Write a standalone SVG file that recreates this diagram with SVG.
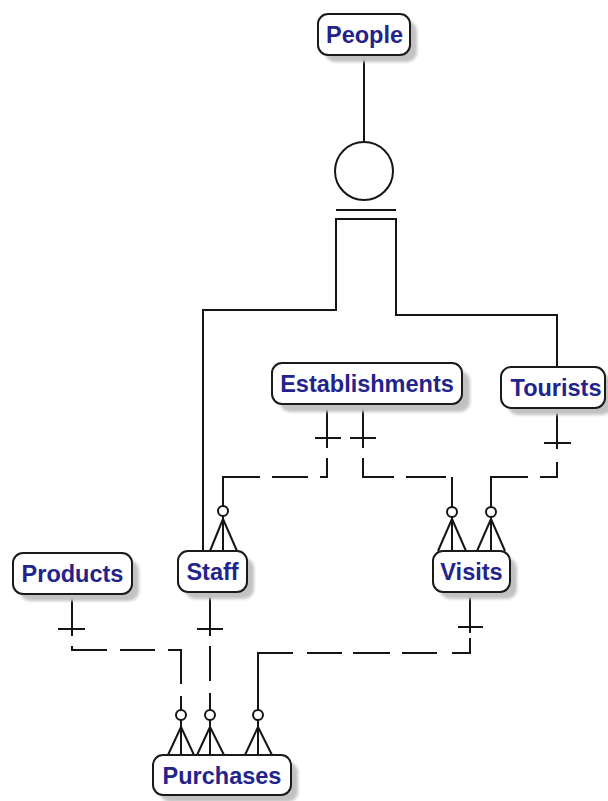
<svg xmlns="http://www.w3.org/2000/svg" width="608" height="801" viewBox="0 0 608 801">
  <style>
    .box { fill: #ffffff; stroke: #1a1a1a; stroke-width: 2; }
    .shadow { fill: #c2c2c2; filter: url(#soft); }
    .label { font-family: "Liberation Sans", Arial, sans-serif; font-weight: bold; font-size: 23.5px; fill: #23238c; text-anchor: middle; }
    .ln { fill: none; stroke: #151515; stroke-width: 2; }
  </style>
  <defs>
    <filter id="soft" x="-10%" y="-20%" width="120%" height="140%">
      <feGaussianBlur stdDeviation="1.5"/>
    </filter>
  </defs>
  <rect width="608" height="801" fill="#ffffff"/>

  <!-- connectors -->
  <g id="connectors">
    <!-- People to subtype circle -->
    <path class="ln" d="M364,55 V142"/>
    <circle class="ln" cx="364" cy="171" r="29"/>
    <path class="ln" d="M336,210 H396"/>
    <path class="ln" d="M203,551 V310 H336 V219 H396 V315 H557 V367"/>

    <!-- Establishments to Staff -->
    <path class="ln" d="M327,404 V448 M315,438 H341"/>
    <path class="ln" d="M327,458 V477 H320 M308,477 H272 M260,477 H223 V506"/>
    <circle class="ln" cx="223" cy="511" r="5"/>
    <path class="ln" d="M223,516 V551 M223,519 L210,551 M223,519 L237,551"/>

    <!-- Establishments to Visits -->
    <path class="ln" d="M363,404 V448 M350,438 H376"/>
    <path class="ln" d="M363,458 V477 H394 M406,477 H446 M452,477 V507"/>
    <circle class="ln" cx="452" cy="512" r="5"/>
    <path class="ln" d="M452,517 V551 M452,519 L438,551 M452,519 L466,551"/>

    <!-- Tourists to Visits -->
    <path class="ln" d="M557,408 V449 M544,443 H571"/>
    <path class="ln" d="M557,462 V477 H540 M528,477 H491 V507"/>
    <circle class="ln" cx="491" cy="512" r="5"/>
    <path class="ln" d="M491,517 V551 M491,519 L477,551 M491,519 L505,551"/>

    <!-- Products to Purchases -->
    <path class="ln" d="M72,595 V636 M58,629 H85"/>
    <path class="ln" d="M72,646 V650 H107 M120,650 H155 M168,650 H181 V684 M181,696 V710"/>
    <circle class="ln" cx="181" cy="715" r="5"/>
    <path class="ln" d="M181,720 V755 M181,727 L168,755 M181,727 L194,755"/>

    <!-- Staff to Purchases -->
    <path class="ln" d="M210,592 V636 M197,629 H223"/>
    <path class="ln" d="M210,646 V681 M210,693 V710"/>
    <circle class="ln" cx="210" cy="715" r="5"/>
    <path class="ln" d="M210,720 V755 M210,727 L197,755 M210,727 L224,755"/>

    <!-- Visits to Purchases -->
    <path class="ln" d="M470,592 V633 M458,627 H483"/>
    <path class="ln" d="M470,638 V653 H452 M437,653 H402 M390,653 H353 M342,653 H307 M293,653 H258 V710"/>
    <circle class="ln" cx="258" cy="715" r="5"/>
    <path class="ln" d="M258,720 V755 M258,727 L245,755 M258,727 L272,755"/>
  </g>

  <!-- entities -->
  <g id="people">
    <rect class="shadow" x="325" y="21" width="92" height="41" rx="10"/>
    <rect class="box" x="318" y="14" width="92" height="41" rx="10"/>
    <text class="label" x="364.5" y="43">People</text>
  </g>
  <g id="establishments">
    <rect class="shadow" x="280" y="371" width="190" height="41" rx="10"/>
    <rect class="box" x="272" y="363" width="190" height="41" rx="10"/>
    <text class="label" x="367" y="392">Establishments</text>
  </g>
  <g id="tourists">
    <rect class="shadow" x="508" y="374" width="104" height="41" rx="10"/>
    <rect class="box" x="501" y="367" width="104" height="41" rx="10"/>
    <text class="label" x="556" y="396">Tourists</text>
  </g>
  <g id="products">
    <rect class="shadow" x="20" y="560" width="119" height="41" rx="10"/>
    <rect class="box" x="13" y="553" width="119" height="41" rx="10"/>
    <text class="label" x="72.5" y="582">Products</text>
  </g>
  <g id="staff">
    <rect class="shadow" x="185" y="558" width="69" height="41" rx="10"/>
    <rect class="box" x="178" y="551" width="69" height="41" rx="10"/>
    <text class="label" x="212.5" y="580">Staff</text>
  </g>
  <g id="visits">
    <rect class="shadow" x="440" y="558" width="77" height="41" rx="10"/>
    <rect class="box" x="433" y="551" width="77" height="41" rx="10"/>
    <text class="label" x="471.5" y="580">Visits</text>
  </g>
  <g id="purchases">
    <rect class="shadow" x="160" y="762" width="138" height="40" rx="10"/>
    <rect class="box" x="153" y="755" width="138" height="40" rx="10"/>
    <text class="label" x="222" y="784">Purchases</text>
  </g>
</svg>
